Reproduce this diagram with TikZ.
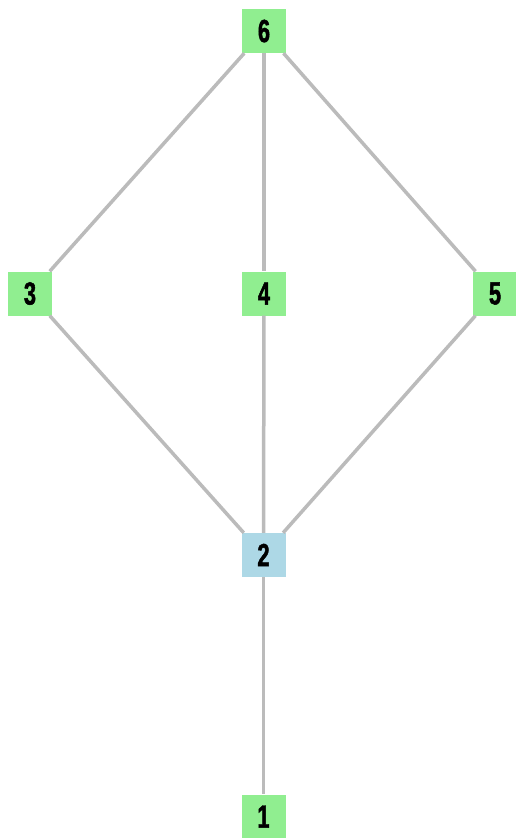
\documentclass[tikz,border=0pt]{standalone}
\usepackage{fontspec}
\setmainfont{Liberation Sans}[FakeStretch=0.68,FakeBold=1.5]
\definecolor{ngreen}{HTML}{90EE90}
\definecolor{nblue}{HTML}{ADD8E6}
\definecolor{edgegray}{HTML}{BBBBBB}
\begin{document}
\begin{tikzpicture}[x=1pt,y=-1pt,
  vbox/.style={minimum width=44pt,minimum height=44pt,inner sep=0pt,font=\fontsize{32}{32}\selectfont\bfseries},
  gbox/.style={vbox,fill=ngreen},
  bbox/.style={vbox,fill=nblue},
  edge/.style={draw=edgegray,line width=3.5pt}]
\useasboundingbox (0,0) rectangle (516,838);
\node[gbox] (n6) at (264,31) {6};
\node[gbox] (n3) at (30,293.5) {3};
\node[gbox] (n4) at (264,293.5) {4};
\node[gbox] (n5) at (495,293.5) {5};
\node[bbox] (n2) at (263.5,555) {2};
\node[gbox] (n1) at (263.5,816.5) {1};
\draw[edge] (n6) -- (n3);
\draw[edge] (n6) -- (n4);
\draw[edge] (n6) -- (n5);
\draw[edge] (n3) -- (n2);
\draw[edge] (n4) -- (n2);
\draw[edge] (n5) -- (n2);
\draw[edge] (n2) -- (n1);
\end{tikzpicture}
\end{document}
